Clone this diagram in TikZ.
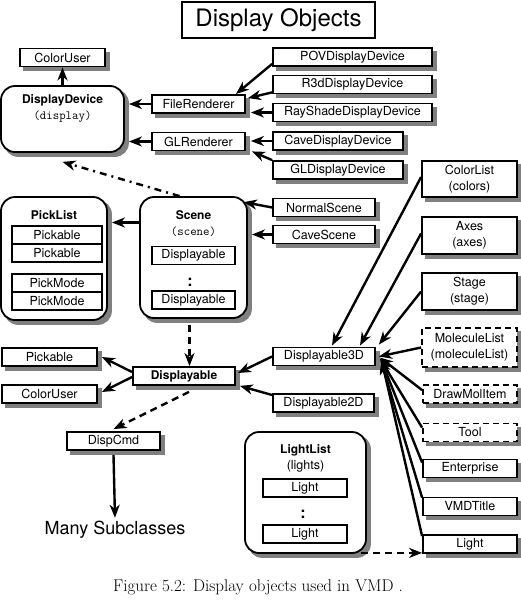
\documentclass[tikz,border=0pt]{standalone}
\usepackage{fontspec}
\setsansfont{TeX Gyre Heros}
\usetikzlibrary{arrows.meta,backgrounds}
\begin{document}
\begin{tikzpicture}[
    x=1pt, y=-1pt,
    font=\sffamily\fontsize{12.5}{16}\selectfont,
    classbox/.style={rectangle, draw=black, line width=1.8pt, fill=white, minimum height=18pt, inner sep=0pt},
    ghostbox/.style={classbox, dash pattern=on 6pt off 4pt},
    innerbox/.style={rectangle, draw=black, line width=1.8pt, fill=white, minimum height=18pt, inner sep=0pt},
    holder/.style={rectangle, rounded corners=14pt, draw=black, line width=1.8pt, fill=white},
    shadowfill/.style={fill=black!50},
    heading/.style={font=\sffamily\bfseries\fontsize{12}{17}\selectfont},
    dots/.style={font=\sffamily\bfseries\fontsize{16}{16}\selectfont, inner sep=0pt},
    isa/.style={-{Stealth[length=13pt,width=10pt,inset=4pt]}, line width=2.4pt},
    uses/.style={isa, dash pattern=on 7pt off 5pt},
    refers/.style={isa, dash pattern=on 7pt off 5pt on 2pt off 5pt}
]
    \useasboundingbox (0,0) rectangle (521,608);

    % Nodes
    \node[draw, line width=2.8pt, minimum width=193pt, minimum height=36pt, font=\sffamily\fontsize{24}{28}\selectfont] (title) at (278.5,20) {Display Objects};

    \node[classbox, minimum width=85pt] (colorUserTop) at (62.5,57.5) {ColorUser};
    \node[holder, minimum width=123pt, minimum height=66pt] (displayDevice) at (62.5,119) {};
    \node[align=center] (displayDeviceName) at (62.5,108) {{\bfseries\fontsize{12}{16}\selectfont DisplayDevice}\\{\ttfamily\fontsize{12.5}{16}\selectfont(display)}};

    \node[classbox, minimum width=93pt] (fileRenderer) at (198.5,104) {FileRenderer};
    \node[classbox, minimum width=93pt] (glRenderer) at (198.5,141.5) {GLRenderer};
    \node[classbox, minimum width=159pt] (pov) at (352.5,57) {POVDisplayDevice};
    \node[classbox, minimum width=159pt] (r3d) at (352.5,84.5) {R3dDisplayDevice};
    \node[classbox, minimum width=159pt] (rayShade) at (352.5,112.5) {RayShadeDisplayDevice};
    \node[classbox, minimum width=130pt] (caveDevice) at (338,141) {CaveDisplayDevice};
    \node[classbox, minimum width=130pt] (glDevice) at (338,170) {GLDisplayDevice};
    \node[classbox, minimum width=102pt] (normalScene) at (324,207.5) {NormalScene};
    \node[classbox, minimum width=102pt] (caveScene) at (324,234.5) {CaveScene};

    % PickList holder
    \node[holder, minimum width=106pt, minimum height=123pt] (pickList) at (54,258.5) {};
    \node[heading] (pickListName) at (54,215) {PickList};
    \node[innerbox, minimum width=90pt] (pickable1) at (57,235) {Pickable};
    \node[innerbox, minimum width=90pt] (pickable2) at (57,253) {Pickable};
    \node[innerbox, minimum width=90pt] (pickMode1) at (57,283) {PickMode};
    \node[innerbox, minimum width=90pt] (pickMode2) at (57,301) {PickMode};

    % Scene holder
    \node[holder, minimum width=107pt, minimum height=121pt] (scene) at (193.5,257.5) {};
    \node[align=center] (sceneName) at (193.5,223.5) {{\bfseries\fontsize{12}{17}\selectfont Scene}\\{\ttfamily\fontsize{12.5}{17}\selectfont(scene)}};
    \node[innerbox, minimum width=83pt] (sceneItem1) at (193.5,255.5) {Displayable};
    \node[dots] (sceneDots) at (190,282) {:};
    \node[innerbox, minimum width=83pt] (sceneItem2) at (193.5,300) {Displayable};

    % right column
    \node[classbox, minimum width=95pt, minimum height=36pt, align=center] (colorList) at (469.5,179) {ColorList\\(colors)};
    \node[classbox, minimum width=95pt, minimum height=37pt, align=center] (axes) at (469.5,235.5) {Axes\\(axes)};
    \node[classbox, minimum width=95pt, minimum height=37pt, align=center] (stage) at (469.5,291.5) {Stage\\(stage)};
    \node[ghostbox, minimum width=95pt, minimum height=39pt, align=center] (moleculeList) at (469.5,347.5) {MoleculeList\\(moleculeList)};
    \node[ghostbox, minimum width=94pt] (drawMolItem) at (470,394) {DrawMolItem};
    \node[ghostbox, minimum width=94pt] (tool) at (470,432.5) {Tool};
    \node[classbox, minimum width=94pt] (enterprise) at (470,468.5) {Enterprise};
    \node[classbox, minimum width=94pt] (vmdTitle) at (470,506.5) {VMDTitle};
    \node[classbox, minimum width=94pt] (lightItem) at (470,544) {Light};

    \node[classbox, minimum width=102pt] (displayable3D) at (324,356.5) {Displayable3D};
    \node[classbox, minimum width=101pt] (displayable2D) at (323.5,403) {Displayable2D};
    \node[classbox, heading, minimum width=102pt] (displayable) at (184,376) {Displayable};
    \node[classbox, minimum width=95pt] (pickable) at (49.5,357) {Pickable};
    \node[classbox, minimum width=95pt] (colorUser) at (49.5,394) {ColorUser};
    \node[classbox, minimum width=93pt] (dispCmd) at (113.5,441) {DispCmd};
    \node[font=\sffamily\fontsize{18}{20}\selectfont] (subclasses) at (115,530) {Many Subclasses};

    % LightList holder
    \node[holder, minimum width=121pt, minimum height=121pt] (lightList) at (305.5,492.5) {};
    \node[align=center] (lightListName) at (305.5,458) {{\bfseries\fontsize{12}{16}\selectfont LightList}\\(lights)};
    \node[innerbox, minimum width=84pt] (light1) at (305,488) {Light};
    \node[dots] (lightDots) at (303,514) {:};
    \node[innerbox, minimum width=84pt] (light2) at (305,534) {Light};

    \node[font=\rmfamily\fontsize{17}{20}\selectfont] (caption) at (258,587) {Figure 5.2: Display objects used in VMD .};

    % Shadows
    \begin{scope}[on background layer]
        \foreach \n in {colorUserTop, fileRenderer, glRenderer, pov, r3d, rayShade, caveDevice, glDevice, normalScene, caveScene, colorList, axes, stage, moleculeList, drawMolItem, tool, enterprise, vmdTitle, lightItem, displayable3D, displayable2D, displayable, pickable, colorUser, dispCmd}
            \fill[shadowfill] ([shift={(4pt,-4pt)}]\n.south west) rectangle ([shift={(4pt,-4pt)}]\n.north east);
        \foreach \n in {displayDevice, pickList, scene, lightList}
            \fill[shadowfill, rounded corners=14pt] ([shift={(4pt,-4pt)}]\n.south west) rectangle ([shift={(4pt,-4pt)}]\n.north east);
    \end{scope}

    % Edges
    \draw[isa] (displayDevice.north -| colorUserTop.south) -- (colorUserTop.south);
    \draw[isa] (fileRenderer.west) -- ([xshift=4pt]fileRenderer.west -| displayDevice.east);
    \draw[isa] (glRenderer.west) -- ([xshift=4pt]glRenderer.west -| displayDevice.east);
    \draw[isa] ([yshift=3pt]pov.south west) -- ([xshift=-10pt]fileRenderer.north east);
    \draw[isa] ([yshift=2pt]r3d.south west) -- ([xshift=2pt,yshift=-4pt]fileRenderer.north east);
    \draw[isa] (rayShade.west) -- ([xshift=5pt]rayShade.west -| fileRenderer.east);
    \draw[isa] (caveDevice.west) -- ([xshift=5pt]caveDevice.west -| glRenderer.east);
    \draw[isa] (glDevice.north west) -- ([xshift=6pt]glRenderer.south east);

    \draw[isa] (normalScene.west) -- ([xshift=-4pt,yshift=-6pt]scene.north east);
    \draw[isa] (caveScene.west) -- ([xshift=4pt]caveScene.west -| scene.east);
    \draw[isa] ([yshift=35pt]scene.west) -- ([xshift=4pt,yshift=35pt]scene.west -| pickList.east);
    \draw[refers] ([xshift=-14pt]scene.north) -- ([yshift=-9pt]displayDevice.south);
    \draw[uses] ([xshift=-4pt,yshift=-6pt]scene.south) -- ([xshift=-4pt]scene.south |- displayable.north);

    \draw[isa] ([yshift=4pt]displayable.west) -- ([xshift=4pt]pickable.east);
    \draw[isa] ([yshift=-1pt]displayable.west) -- ([xshift=4pt,yshift=2pt]colorUser.east);
    \draw[uses] ([xshift=5pt,yshift=-6pt]displayable.south) -- ([yshift=2pt]dispCmd.north);
    \draw[isa] ([yshift=-4pt]dispCmd.south) -- (subclasses.north);
    \draw[isa] (displayable3D.west) -- ([xshift=2pt,yshift=3pt]displayable.east);
    \draw[isa] ([yshift=8pt]displayable2D.west) -- ([xshift=4pt]displayable.south east);

    \draw[isa] ([yshift=2pt]colorList.west) -- ([xshift=8pt,yshift=1pt]displayable3D.north);
    \draw[isa] ([yshift=2pt]axes.west) -- ([xshift=36pt,yshift=1pt]displayable3D.north);
    \draw[isa] (stage.west) -- ([xshift=3pt,yshift=2pt]displayable3D.north east);
    \draw[isa] (moleculeList.west) -- ([xshift=3pt]displayable3D.east);
    \draw[isa] ([yshift=-6pt]drawMolItem.north west) -- ([xshift=4pt,yshift=-1pt]displayable3D.east);
    \draw[isa] ([yshift=-5pt]tool.north west) -- ([xshift=4pt,yshift=-2pt]displayable3D.east);
    \draw[isa] ([yshift=-4pt]enterprise.north west) -- ([xshift=5pt,yshift=-3pt]displayable3D.east);
    \draw[isa] ([yshift=-1pt]vmdTitle.north west) -- ([xshift=5pt,yshift=-4pt]displayable3D.east);
    \draw[isa] ([yshift=-2pt]lightItem.north west) -- ([xshift=6pt,yshift=-5pt]displayable3D.east);
    \draw[uses] ([xshift=-6pt,yshift=1pt]lightList.south east) -- ([yshift=1pt]lightList.south east -| lightItem.west);

\end{tikzpicture}
\end{document}
